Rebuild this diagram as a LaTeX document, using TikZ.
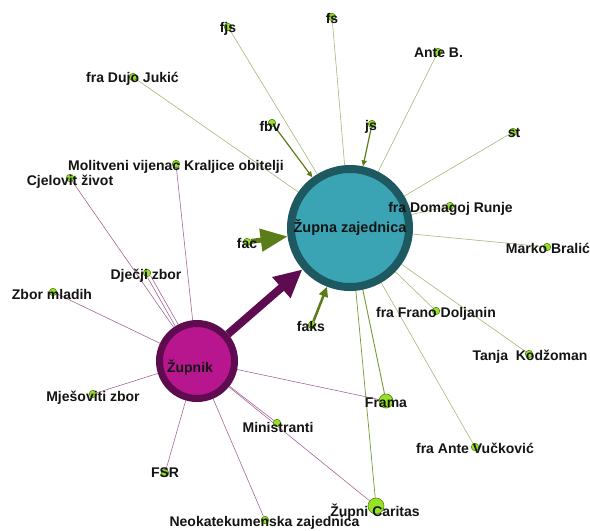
\documentclass[tikz,border=0pt]{standalone}
\usepackage{fontspec}
\setmainfont{Liberation Sans}
\usetikzlibrary{arrows.meta}
\pgfdeclarelayer{back}
\pgfdeclarelayer{bg}
\pgfdeclarelayer{fg}
\pgfsetlayers{back,bg,main,fg}
\definecolor{zzfill}{RGB}{58,164,180}
\definecolor{zzring}{RGB}{30,88,96}
\definecolor{zpfill}{RGB}{184,22,143}
\definecolor{zpring}{RGB}{94,12,79}
\definecolor{dotfill}{RGB}{150,226,40}
\definecolor{dotline}{RGB}{90,130,20}
\definecolor{gedge}{RGB}{160,180,112}
\definecolor{gedgedark}{RGB}{115,155,50}
\definecolor{pedge}{RGB}{160,95,145}
\definecolor{garrow}{RGB}{90,125,25}
\definecolor{txt}{RGB}{20,20,20}
\tikzset{
  dotnode/.style={circle, fill=dotfill, draw=dotline, line width=0.6pt, inner sep=0pt, minimum size=7.5pt},
  bigdot/.style={dotnode, minimum size=14pt},
  lbl/.style={font=\bfseries\fontsize{14}{16}\selectfont, text=txt, inner sep=0pt},
  gline/.style={draw=gedge, line width=0.55pt},
  gthick/.style={draw=gedgedark, line width=0.9pt},
  pline/.style={draw=pedge, line width=0.55pt},
}
\begin{document}
\begin{tikzpicture}[x=1pt,y=-1pt]
\begin{pgfonlayer}{back}
\fill[white] (0,0) rectangle (590,531);
\end{pgfonlayer}
\useasboundingbox (0,0) rectangle (590,531);
% main nodes
\node[circle, fill=zzfill, draw=zzring, line width=8pt, minimum size=118pt, inner sep=0pt] (zz) at (350,228) {};
\node[circle, fill=zpfill, draw=zpring, line width=7pt, minimum size=75pt, inner sep=0pt] (zp) at (197,361) {};
% small nodes
\node[dotnode] (fjs) at (228,27) {};
\node[dotnode] (fs) at (332,17) {};
\node[dotnode] (ante) at (438,52) {};
\node[dotnode] (dujo) at (133,77) {};
\node[dotnode] (fbv) at (272,123) {};
\node[dotnode] (js) at (372,124) {};
\node[dotnode] (st) at (513,132) {};
\node[dotnode] (mol) at (176,164) {};
\node[dotnode] (cje) at (70,178) {};
\node[dotnode] (dom) at (450,206) {};
\node[dotnode] (mar) at (547,247) {};
\node[dotnode] (fac) at (247,242) {};
\node[dotnode] (dz) at (147,273) {};
\node[dotnode] (zm) at (53,292) {};
\node[dotnode] (faks) at (312,325) {};
\node[dotnode] (fra) at (436,311) {};
\node[dotnode] (tan) at (529,354) {};
\node[dotnode] (mje) at (93,394) {};
\node[bigdot] (frama) at (386,401) {};
\node[dotnode] (min) at (277,423) {};
\node[dotnode] (vuc) at (475,447) {};
\node[dotnode] (fsr) at (165,473) {};
\node[bigdot, minimum size=16pt] (car) at (376,506) {};
\node[dotnode] (neo) at (265,520) {};
% edges
\begin{pgfonlayer}{bg}
\foreach \n in {fjs,fs,ante,dujo,st,dom,mar,fra,tan,vuc}{\draw[gline] (zz) -- (\n);}
\draw[gthick] (zz) -- (frama);
\draw[gthick, line width=0.7pt] (zz) -- (car);
\foreach \n in {mol,cje,zm,mje,fsr,neo,min,frama,car}{\draw[pline] (zp) -- (\n);}
\draw[pline, transform canvas={shift={(-1.5pt,-0.85pt)}}] (dz) -- (zp);
\draw[pline, transform canvas={shift={(1.5pt,0.85pt)}}] (dz) -- (zp);
\draw[garrow, line width=1.2pt, -{Triangle[length=6pt,width=5pt]}] (fbv) -- (zz);
\draw[garrow, line width=1.2pt, -{Triangle[length=6pt,width=5pt]}] (js) -- (zz);
\draw[garrow, line width=2.5pt, -{Triangle[length=10pt,width=9pt]}] (faks) -- (zz);
\draw[garrow, line width=5pt, -{Triangle[length=27pt,width=22pt]}] (fac) -- (zz);
\draw[zpring, line width=8pt, -{Triangle[length=28pt,width=26pt]}] (zp) -- (zz);
\end{pgfonlayer}
% labels
\begin{pgfonlayer}{fg}
\node[lbl, font=\bfseries\fontsize{14.5}{16}\selectfont] (zzl) at (350,228) {Župna zajednica};
\node[lbl] (zpl) at (190,368) {Župnik};
\node[lbl] (fjsl) at (228,29) {fjs};
\node[lbl] (fsl) at (332,18) {fs};
\node[lbl] (antel) at (438.5,53) {Ante B.};
\node[lbl] (dujol) at (132.5,79) {fra Dujo Jukić};
\node[lbl] (fbvl) at (270,126) {fbv};
\node[lbl] (jsl) at (371,127) {js};
\node[lbl] (stl) at (514,133) {st};
\node[lbl] (moll) at (176,167) {Molitveni vijenac Kraljice obitelji};
\node[lbl] (cjel) at (70,182) {Cjelovit život};
\node[lbl] (doml) at (450.5,209) {fra Domagoj Runje};
\node[lbl] (marl) at (548,248) {Marko Bralić};
\node[lbl] (facl) at (247,243) {fac};
\node[lbl] (dzl) at (146,276) {Dječji zbor};
\node[lbl] (zml) at (52,294) {Zbor mladih};
\node[lbl] (faksl) at (311,326) {faks};
\node[lbl] (fral) at (436,314) {fra Frano Doljanin};
\node[lbl] (tanl) at (530,357) {Tanja\ \ Kodžoman};
\node[lbl] (mjel) at (93,398) {Mješoviti zbor};
\node[lbl] (framal) at (386,403) {Frama};
\node[lbl] (minl) at (278,427) {Ministranti};
\node[lbl] (vucl) at (475,448) {fra Ante Vučković};
\node[lbl] (fsrl) at (165,473) {FSR};
\node[lbl] (carl) at (375,512) {Župni Caritas};
\node[lbl] (neol) at (264.5,523) {Neokatekumenska zajednica};
\end{pgfonlayer}
\end{tikzpicture}
\end{document}
